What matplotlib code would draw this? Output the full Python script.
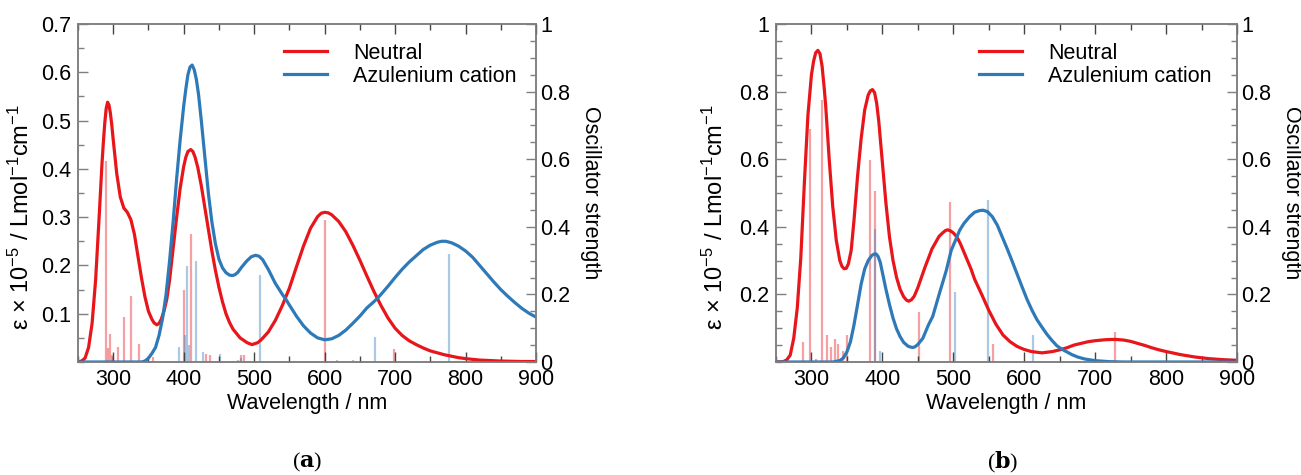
import matplotlib
matplotlib.use('Agg')
import matplotlib.pyplot as plt
from matplotlib.ticker import MultipleLocator, FixedLocator, FuncFormatter

plt.rcParams['font.family'] = ['Liberation Sans', 'DejaVu Sans']
plt.rcParams['mathtext.fontset'] = 'custom'
plt.rcParams['mathtext.rm'] = 'Liberation Sans'
plt.rcParams['mathtext.default'] = 'regular'

# ---- panel (a): simulated spectra (left axis, eps x 1e-5) ----
wl_a_neutral = [250, 255, 260, 265, 270, 275, 280, 284, 286, 288, 290, 292, 294, 296, 298, 300,
                305, 310, 315, 320, 325, 330, 335, 340, 345, 350, 355, 358, 362, 365, 368, 372,
                376, 380, 385, 390, 395, 400, 403, 406, 410, 413, 416, 420, 425, 430, 435, 440,
                445, 450, 455, 460, 465, 470, 480, 490, 497, 505, 510, 520, 530, 540, 550, 560,
                570, 580, 590, 595, 600, 605, 610, 620, 630, 640, 650, 660, 670, 680, 690, 700,
                710, 720, 730, 740, 750, 760, 770, 780, 790, 800, 820, 850, 880, 900]
eps_a_neutral = [0.0, 0.002, 0.008, 0.03, 0.08, 0.17, 0.3, 0.41, 0.455, 0.495, 0.525, 0.538,
                 0.532, 0.515, 0.49, 0.46, 0.39, 0.342, 0.319, 0.31, 0.295, 0.265, 0.22, 0.175,
                 0.135, 0.105, 0.088, 0.081, 0.077, 0.08, 0.088, 0.105, 0.13, 0.17, 0.235, 0.3,
                 0.36, 0.405, 0.424, 0.436, 0.44, 0.436, 0.425, 0.403, 0.365, 0.32, 0.275, 0.23,
                 0.19, 0.155, 0.125, 0.1, 0.082, 0.068, 0.05, 0.04, 0.036, 0.04, 0.046, 0.062,
                 0.086, 0.117, 0.153, 0.197, 0.24, 0.277, 0.301, 0.308, 0.31, 0.309, 0.305,
                 0.291, 0.27, 0.242, 0.211, 0.178, 0.146, 0.117, 0.091, 0.07, 0.055, 0.044,
                 0.036, 0.029, 0.023, 0.019, 0.015, 0.012, 0.009, 0.007, 0.004, 0.002, 0.001,
                 0.001]
wl_a_cation = [250, 300, 340, 345, 350, 355, 360, 365, 370, 375, 380, 385, 390, 395, 400, 403,
               406, 409, 412, 415, 418, 421, 425, 430, 435, 440, 445, 450, 455, 460, 465, 469,
               473, 477, 482, 490, 496, 502, 507, 512, 520, 530, 540, 545, 550, 560, 570, 580,
               590, 600, 610, 620, 630, 640, 650, 660, 670, 675, 680, 690, 700, 710, 720, 730,
               740, 750, 760, 766, 772, 780, 790, 800, 810, 820, 830, 840, 850, 860, 870, 880,
               890, 900]
eps_a_cation = [0.0, 0.0, 0.0, 0.002, 0.008, 0.018, 0.03, 0.055, 0.09, 0.14, 0.21, 0.29, 0.38,
                0.46, 0.53, 0.565, 0.595, 0.611, 0.615, 0.605, 0.585, 0.555, 0.5, 0.425, 0.35,
                0.29, 0.245, 0.213, 0.195, 0.185, 0.18, 0.179, 0.181, 0.186, 0.196, 0.21, 0.218,
                0.221, 0.219, 0.212, 0.192, 0.163, 0.14, 0.13, 0.118, 0.095, 0.075, 0.06, 0.05,
                0.046, 0.048, 0.055, 0.066, 0.08, 0.095, 0.112, 0.125, 0.132, 0.14, 0.157, 0.175,
                0.192, 0.207, 0.22, 0.233, 0.242, 0.248, 0.25, 0.25, 0.247, 0.24, 0.23, 0.217,
                0.2, 0.183, 0.166, 0.15, 0.136, 0.123, 0.111, 0.101, 0.093]

# panel (a): oscillator strengths (right axis)
stick_a_neutral_wl = [290, 292, 295, 298, 300, 307, 315, 325, 336, 356, 400, 410, 431, 437, 481,
                      485, 600, 699]
stick_a_neutral_f = [0.595, 0.04, 0.083, 0.02, 0.015, 0.043, 0.132, 0.195, 0.053, 0.015, 0.213,
                     0.38, 0.025, 0.022, 0.02, 0.02, 0.42, 0.037]
stick_a_cation_wl = [393, 402, 405, 408, 417, 428, 452, 477, 482, 509, 618, 640, 672, 777]
stick_a_cation_f = [0.043, 0.08, 0.285, 0.05, 0.3, 0.03, 0.025, 0.006, 0.012, 0.257, 0.005,
                    0.006, 0.074, 0.321]

# ---- panel (b) ----
wl_b_neutral = [250, 260, 265, 270, 275, 280, 285, 290, 295, 300, 303, 306, 309, 312, 315, 318,
                320, 325, 330, 335, 340, 343, 346, 349, 352, 356, 360, 365, 370, 375, 380, 383,
                386, 389, 392, 395, 400, 405, 410, 415, 420, 425, 430, 434, 437, 441, 445, 450,
                460, 470, 480, 485, 489, 492, 496, 500, 505, 510, 515, 520, 525, 530, 540, 550,
                560, 570, 580, 590, 600, 610, 625, 640, 650, 660, 670, 680, 690, 700, 715, 728,
                740, 750, 760, 770, 780, 790, 800, 820, 840, 860, 880, 900]
eps_b_neutral = [0.0, 0.001, 0.006, 0.02, 0.07, 0.16, 0.31, 0.53, 0.73, 0.85, 0.89, 0.915, 0.922,
                 0.912, 0.875, 0.81, 0.76, 0.6, 0.46, 0.36, 0.3, 0.283, 0.276, 0.277, 0.29, 0.33,
                 0.42, 0.55, 0.66, 0.745, 0.79, 0.802, 0.806, 0.797, 0.765, 0.71, 0.59, 0.47,
                 0.37, 0.3, 0.25, 0.215, 0.193, 0.183, 0.18, 0.184, 0.195, 0.22, 0.28, 0.335,
                 0.372, 0.382, 0.389, 0.391, 0.388, 0.382, 0.37, 0.35, 0.325, 0.3, 0.275, 0.245,
                 0.2, 0.153, 0.112, 0.08, 0.06, 0.046, 0.037, 0.031, 0.027, 0.031, 0.036, 0.042,
                 0.05, 0.055, 0.06, 0.063, 0.066, 0.067, 0.065, 0.061, 0.055, 0.049, 0.042,
                 0.036, 0.031, 0.022, 0.015, 0.01, 0.007, 0.005]
wl_b_cation = [250, 330, 340, 345, 350, 355, 360, 365, 370, 375, 380, 385, 388, 391, 394, 397,
               400, 405, 410, 415, 420, 425, 430, 436, 440, 443, 446, 450, 457, 465, 471, 480,
               485, 490, 497, 503, 509, 515, 523, 530, 537, 542, 548, 555, 562, 569, 576, 583,
               590, 597, 604, 611, 618, 625, 632, 639, 646, 653, 660, 667, 675, 685, 700, 720,
               740, 900]
eps_b_cation = [0.0, 0.0, 0.004, 0.012, 0.03, 0.06, 0.11, 0.17, 0.23, 0.275, 0.3, 0.315, 0.319,
                0.32, 0.312, 0.295, 0.265, 0.215, 0.17, 0.13, 0.098, 0.075, 0.058, 0.047, 0.044,
                0.043, 0.045, 0.052, 0.07, 0.11, 0.135, 0.2, 0.235, 0.27, 0.33, 0.36, 0.39, 0.41,
                0.43, 0.443, 0.448, 0.449, 0.445, 0.43, 0.405, 0.37, 0.335, 0.298, 0.26, 0.222,
                0.185, 0.153, 0.125, 0.103, 0.082, 0.064, 0.048, 0.038, 0.03, 0.022, 0.015,
                0.009, 0.004, 0.001, 0.0, 0.0]

stick_b_neutral_wl = [288, 298, 306, 314.5, 321.5, 327.5, 333, 337, 344, 350, 383, 389, 452, 496,
                      556, 728]
stick_b_neutral_f = [0.059, 0.69, 0.01, 0.775, 0.079, 0.044, 0.069, 0.054, 0.032, 0.081, 0.598,
                     0.505, 0.148, 0.473, 0.054, 0.089]
stick_b_cation_wl = [390, 396, 503, 549, 612]
stick_b_cation_f = [0.394, 0.034, 0.207, 0.48, 0.079]

red = '#e8161b'
blue = '#2e7ab8'
spine_c = '#7f7f7f'
fs = 15.5


def draw_panel(ax, wl_n, eps_n, wl_c, eps_c, sn_wl, sn_f, sc_wl, sc_f, ymax, yticks, lab_x,
               leg_x):
    ax2 = ax.twinx()
    # sticks on the right axis, drawn underneath the curves
    ax2.vlines(sn_wl, 0, sn_f, color=red, alpha=0.4, lw=1.6)
    ax2.vlines(sc_wl, 0, sc_f, color=blue, alpha=0.4, lw=1.6)
    ax2.set_ylim(0, 1)
    ax.set_zorder(ax2.get_zorder() + 1)
    ax.patch.set_visible(False)

    ax.plot(wl_n, eps_n, color=red, lw=2.3, label='Neutral', solid_joinstyle='round')
    ax.plot(wl_c, eps_c, color=blue, lw=2.3, label='Azulenium cation', solid_joinstyle='round')
    ax.set_xlim(250, 900)
    ax.set_ylim(0, ymax)

    ax.xaxis.set_major_locator(MultipleLocator(100))
    ax.xaxis.set_minor_locator(MultipleLocator(50))
    ax.yaxis.set_major_locator(FixedLocator(yticks))
    ax.yaxis.set_minor_locator(MultipleLocator(0.05))
    ax.yaxis.set_major_formatter(FuncFormatter(lambda v, p: '%g' % v))
    ax2.yaxis.set_major_locator(MultipleLocator(0.2))
    ax2.yaxis.set_minor_locator(MultipleLocator(0.05))
    ax2.yaxis.set_major_formatter(FuncFormatter(lambda v, p: '%g' % round(v, 2)))

    ax.tick_params(axis='x', which='both', direction='in', top=True, bottom=True,
                   colors='#444444', labelcolor='black', labelsize=fs, pad=5)
    ax.tick_params(axis='y', which='both', direction='in', left=True, right=False,
                   colors=spine_c, labelcolor='black', labelsize=fs, pad=5)
    ax2.tick_params(axis='y', which='both', direction='in', right=True, left=False,
                    colors=spine_c, labelcolor='black', labelsize=fs, pad=3)
    for a in (ax, ax2):
        a.tick_params(which='major', length=7, width=1)
        a.tick_params(which='minor', length=4, width=1)
        for s in a.spines.values():
            s.set_color(spine_c)
            s.set_linewidth(1.1)

    ax.set_xlabel('Wavelength / nm', fontsize=fs, labelpad=2)
    ax.set_ylabel(r'ε × 10$^{-5}$ / Lmol$^{-1}$cm$^{-1}$', fontsize=fs + 1.5)
    ax.yaxis.set_label_coords(lab_x, 0.43)
    ax2.set_ylabel('Oscillator strength', fontsize=fs, rotation=270, va='center')
    ax2.yaxis.set_label_coords(1.118, 0.5)

    ax.legend(loc='upper right', bbox_to_anchor=(leg_x, 0.945), frameon=False, fontsize=fs,
              handlelength=2.0, handletextpad=1.2, labelspacing=0.1, borderpad=0,
              borderaxespad=0)


fig = plt.figure(figsize=(13.01, 4.75), dpi=100)
ax_a = fig.add_axes([78 / 1301, 1 - 362 / 475, 458 / 1301, 338 / 475])
ax_b = fig.add_axes([776 / 1301, 1 - 362 / 475, 461 / 1301, 338 / 475])

draw_panel(ax_a, wl_a_neutral, eps_a_neutral, wl_a_cation, eps_a_cation,
           stick_a_neutral_wl, stick_a_neutral_f, stick_a_cation_wl, stick_a_cation_f,
           0.7, [0.1, 0.2, 0.3, 0.4, 0.5, 0.6, 0.7], -0.096, 0.958)
draw_panel(ax_b, wl_b_neutral, eps_b_neutral, wl_b_cation, eps_b_cation,
           stick_b_neutral_wl, stick_b_neutral_f, stick_b_cation_wl, stick_b_cation_f,
           1.0, [0.2, 0.4, 0.6, 0.8, 1.0], -0.104, 0.945)

fig.text(307 / 1301, 1 - 462 / 475, r'($\mathbf{a}$)', ha='center', va='center', fontsize=16,
         family='Liberation Serif', math_fontfamily='dejavuserif')
fig.text(1003 / 1301, 1 - 462 / 475, r'($\mathbf{b}$)', ha='center', va='center', fontsize=16,
         family='Liberation Serif', math_fontfamily='dejavuserif')

fig.savefig('out.png', dpi=100)
